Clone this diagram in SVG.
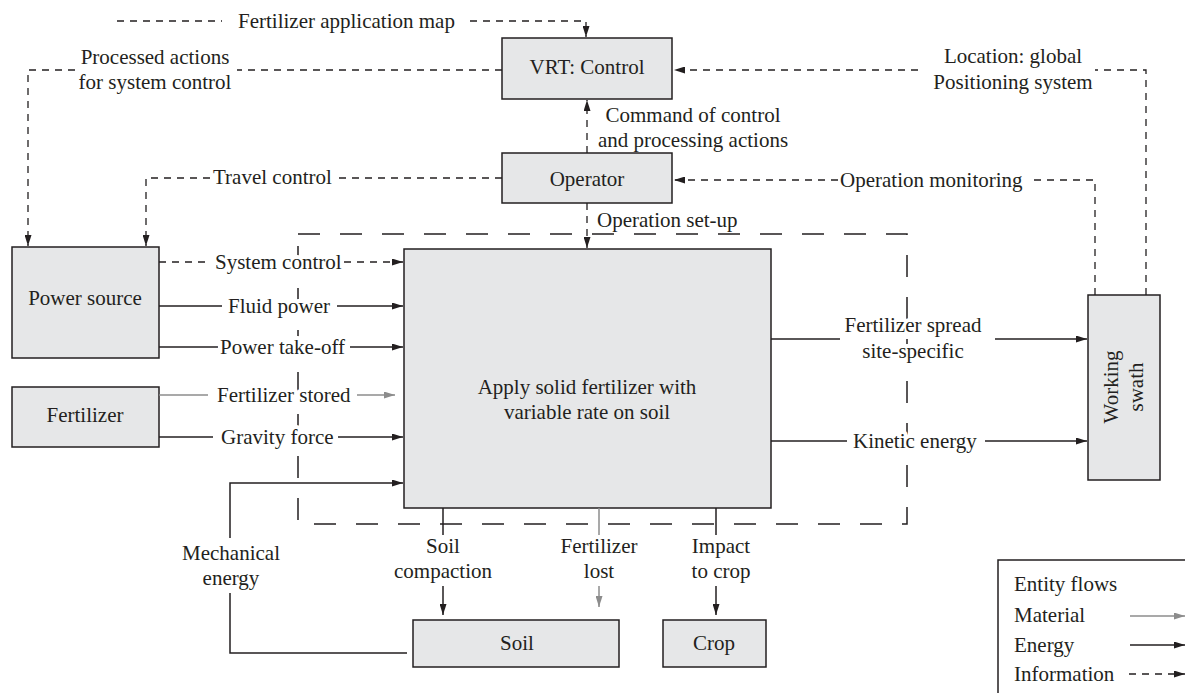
<svg xmlns="http://www.w3.org/2000/svg" width="1185" height="693" viewBox="0 0 1185 693">
<defs>
<style>
text{font-family:"Liberation Serif","Times New Roman",serif;font-size:21px;fill:#231f20}
.box{fill:#e6e7e8;stroke:#231f20;stroke-width:1.5}
.info{fill:none;stroke:#231f20;stroke-width:1.3;stroke-dasharray:7 6}
.en{fill:none;stroke:#231f20;stroke-width:1.5}
.mat{fill:none;stroke:#8c8c8c;stroke-width:1.5}
.bound{fill:none;stroke:#231f20;stroke-width:1.5;stroke-dasharray:22 20}
.halo{stroke:#fff;stroke-width:8;paint-order:stroke;stroke-linejoin:round}
.c{text-anchor:middle}
</style>
<marker id="ab" markerWidth="11" markerHeight="7" refX="11" refY="3.5" orient="auto" markerUnits="userSpaceOnUse"><path d="M0,0 L11,3.5 L0,7 z" fill="#231f20"/></marker>
<marker id="ag" markerWidth="11" markerHeight="7" refX="11" refY="3.5" orient="auto" markerUnits="userSpaceOnUse"><path d="M0,0 L11,3.5 L0,7 z" fill="#8c8c8c"/></marker>
</defs>
<rect width="1185" height="693" fill="#fff"/>
<rect id="boundary" class="bound" x="298" y="234" width="609" height="290"/>

<g id="vrt"><rect class="box" x="502" y="38" width="170" height="61"/><text class="c" x="587" y="74">VRT: Control</text></g>
<g id="operator"><rect class="box" x="502" y="153" width="170" height="50"/><text class="c" x="587" y="186">Operator</text></g>
<g id="power"><rect class="box" x="12" y="247" width="147" height="111"/><text class="c" x="85" y="305">Power source</text></g>
<g id="fertilizer"><rect class="box" x="12" y="387" width="147" height="60"/><text class="c" x="85" y="422">Fertilizer</text></g>
<g id="main"><rect class="box" x="404" y="249" width="367" height="259"/><text class="c" x="587" y="394">Apply solid fertilizer with</text><text class="c" x="587" y="419">variable rate on soil</text></g>
<g id="swath"><rect class="box" x="1088" y="295" width="72" height="185"/><text class="c" transform="translate(1118,387) rotate(-90)">Working</text><text class="c" transform="translate(1143,387) rotate(-90)">swath</text></g>
<g id="soil"><rect class="box" x="413" y="620" width="206" height="47"/><text class="c" x="517" y="650">Soil</text></g>
<g id="crop"><rect class="box" x="663" y="620" width="103" height="47"/><text class="c" x="714" y="650">Crop</text></g>

<g id="connectors">
<path class="info" d="M117,21 H222"/>
<path class="info" d="M470,21 H586 V37" marker-end="url(#ab)"/>
<path class="info" d="M502,70 H237"/>
<path class="info" d="M75,70 H28 V246" marker-end="url(#ab)"/>
<path class="info" d="M502,178 H336"/>
<path class="info" d="M210,178 H146 V246" marker-end="url(#ab)"/>
<path class="info" d="M587,153 V100" marker-end="url(#ab)"/>
<path class="info" d="M587,203 V248" marker-end="url(#ab)"/>
<path class="info" d="M1146,295 V70 H1095"/>
<path class="info" d="M918,70 H674" marker-end="url(#ab)"/>
<path class="info" d="M1095,295 V180 H1030"/>
<path class="info" d="M838,180 H674" marker-end="url(#ab)"/>
<path class="info" d="M159,262 H209"/>
<path class="info" d="M344,262 H403" marker-end="url(#ab)"/>
<path class="en" d="M159,306 H222"/>
<path class="en" d="M337,306 H403" marker-end="url(#ab)"/>
<path class="en" d="M159,347 H218"/>
<path class="en" d="M350,347 H403" marker-end="url(#ab)"/>
<path class="mat" d="M159,395 H208"/>
<path class="mat" d="M357,395 H395" marker-end="url(#ag)"/>
<path class="en" d="M159,437 H213"/>
<path class="en" d="M338,437 H403" marker-end="url(#ab)"/>
<path class="en" d="M407,653 H230 V593"/>
<path class="en" d="M230,538 V483 H403" marker-end="url(#ab)"/>
<path class="en" d="M771,339 H840"/>
<path class="en" d="M995,339 H1087" marker-end="url(#ab)"/>
<path class="en" d="M771,441 H847"/>
<path class="en" d="M985,441 H1087" marker-end="url(#ab)"/>
<path class="en" d="M443,508 V535"/>
<path class="en" d="M443,586 V615" marker-end="url(#ab)"/>
<path class="mat" d="M599,508 V535"/>
<path class="mat" d="M599,586 V607" marker-end="url(#ag)"/>
<path class="en" d="M716,508 V535"/>
<path class="en" d="M716,586 V615" marker-end="url(#ab)"/>
</g>

<g id="labels">
<text x="238" y="28">Fertilizer application map</text>
<text class="c" x="155" y="64">Processed actions</text>
<text class="c" x="155" y="89">for system control</text>
<text class="c" x="1013" y="63">Location: global</text>
<text class="c" x="1013" y="89">Positioning system</text>
<text class="c" x="693" y="122">Command of control</text>
<text class="c" x="693" y="147">and processing actions</text>
<text x="213" y="184">Travel control</text>
<text x="840" y="187">Operation monitoring</text>
<text x="597" y="227">Operation set-up</text>
<text class="halo" x="215" y="269">System control</text>
<text class="halo" x="228" y="313">Fluid power</text>
<text class="halo" x="220" y="354">Power take-off</text>
<text class="halo" x="217" y="402">Fertilizer stored</text>
<text class="halo" x="221" y="444">Gravity force</text>
<text class="c halo" x="913" y="332">Fertilizer spread</text>
<text class="c halo" x="913" y="358">site-specific</text>
<text class="halo" x="853" y="448">Kinetic energy</text>
<text class="c" x="231" y="560">Mechanical</text>
<text class="c" x="231" y="585">energy</text>
<text class="c" x="443" y="553">Soil</text>
<text class="c" x="443" y="578">compaction</text>
<text class="c" x="599" y="553">Fertilizer</text>
<text class="c" x="599" y="578">lost</text>
<text class="c" x="721" y="553">Impact</text>
<text class="c" x="721" y="578">to crop</text>
</g>

<g id="legend">
<rect x="998" y="560" width="200" height="150" fill="#fff" stroke="#231f20" stroke-width="1.5"/>
<text x="1014" y="591">Entity flows</text>
<text x="1014" y="622">Material</text>
<text x="1014" y="652">Energy</text>
<text x="1014" y="681">Information</text>
<path class="mat" d="M1130,616 H1185" marker-end="url(#ag)"/>
<path class="en" d="M1130,645 H1185" marker-end="url(#ab)"/>
<path class="info" d="M1129,674 H1185" marker-end="url(#ab)"/>
</g>
</svg>
